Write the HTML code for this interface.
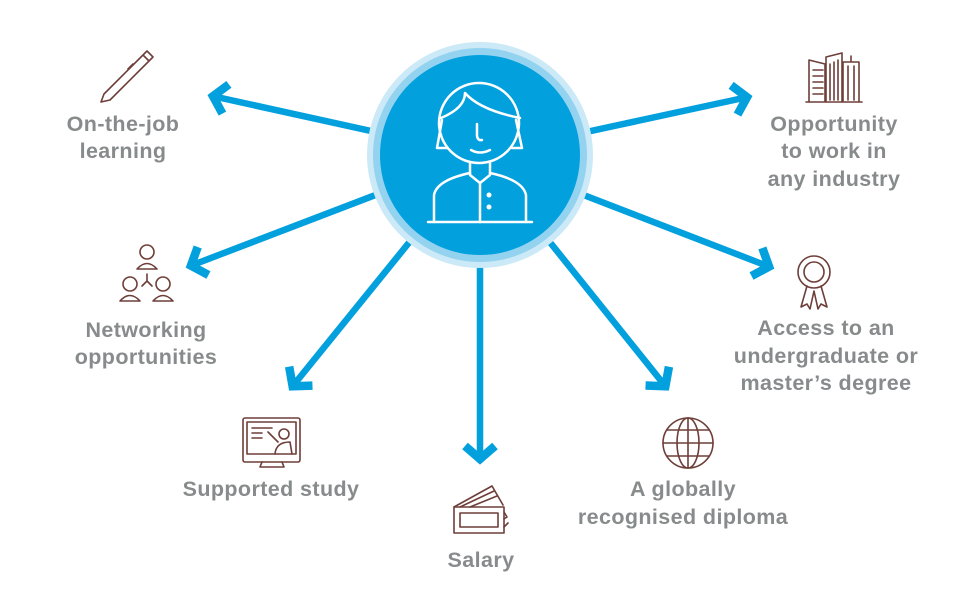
<!DOCTYPE html>
<html><head><meta charset="utf-8"><style>
html,body{margin:0;padding:0;background:#fff;}
svg{display:block}
text{font-family:"Liberation Sans",sans-serif;font-weight:bold;font-size:21.5px;letter-spacing:0.4px;fill:#878b8c;text-anchor:middle}
.ic{fill:none;stroke:#6e3e38;stroke-width:1.6;stroke-linejoin:round;stroke-linecap:round}
</style></head><body>
<svg width="960" height="611" viewBox="0 0 960 611" xmlns="http://www.w3.org/2000/svg">
<defs>
<marker id="ah" markerUnits="userSpaceOnUse" markerWidth="40" markerHeight="40" refX="21" refY="20" orient="auto" viewBox="0 0 40 40">
<polyline points="7,5 20,20 7,35" fill="none" stroke="#03a0de" stroke-width="8.5" stroke-linejoin="miter" stroke-miterlimit="10"/>
</marker>
</defs>
<g stroke="#03a0de" stroke-width="6.5" fill="none" marker-end="url(#ah)">
<line x1="480" y1="155" x2="212" y2="96"/>
<line x1="480" y1="155" x2="748" y2="97"/>
<line x1="480" y1="155" x2="190" y2="266"/>
<line x1="480" y1="155" x2="770" y2="267"/>
<line x1="480" y1="155" x2="292" y2="387"/>
<line x1="480" y1="155" x2="480" y2="460"/>
<line x1="480" y1="155" x2="666" y2="387"/>
</g>
<circle cx="480" cy="155" r="113" fill="#cbe9f7"/>
<circle cx="480" cy="155" r="107" fill="#93d3f0"/>
<circle cx="480" cy="155" r="100" fill="#03a0de"/>
<g fill="none" stroke="#fff" stroke-width="2.5" stroke-linecap="round" stroke-linejoin="round">
<circle cx="479" cy="123" r="40"/>
<path d="M441,118 Q465,108 465,93 Q480,110 520,118"/>
<path d="M442,120 L437,148 L447,148 M516,120 L522,148 L512,148"/>
<path d="M477,124 L477,136 Q478,141 482,140"/>
<path d="M471,150 Q480,155 490,150"/>
<path d="M470,163 L470,175 L480,183 L490,175 L490,163"/>
<path d="M434,222 L434,195 Q437,180 470,173 M490,173 Q523,180 526,195 L526,222"/>
<path d="M480,183 L480,222"/>
<path d="M428,222 L532,222"/>
</g>
<circle cx="489" cy="195" r="2.5" fill="#fff"/><circle cx="489" cy="207" r="2.5" fill="#fff"/>

<g class="ic"><path d="M101,102 L104,94 L143,55 L149,61 L110,100 Z M143,55 L147,51 L153,57 L149,61 M128,69 L133,64"/></g>
<g class="ic"><path d="M806,102 L862,102 M809,102 L809,60 L825,64 L825,102 M826,102 L826,57 L842,53 L842,102 M843,102 L843,62 L859,62 L859,102 M851,62 L851,56 M813,70 L823,70 M813,76 L823,76 M813,82 L823,82 M813,88 L823,88 M813,94 L823,94 M830,64 L830,100 M834,62 L834,100 M838,60 L838,100 M848,66 L848,100 M854,66 L854,100"/></g>
<g class="ic"><circle cx="147" cy="252" r="7"/><path d="M137,269 Q147,258 157,269 Z"/><circle cx="130" cy="284" r="7"/><path d="M120,301 Q130,290 140,301 Z"/><circle cx="163" cy="284" r="7"/><path d="M153,301 Q163,290 173,301 Z"/><path d="M147,274 L147,281 L142,286 M147,281 L152,286"/></g>
<circle cx="814" cy="272" r="16" class="ic"/><circle cx="814" cy="272" r="10" class="ic"/>
<g class="ic"><path d="M807,286 L801,307 L807,304 L810,309 L814,291 L818,309 L821,304 L827,307 L821,286"/></g>
<g class="ic"><rect x="243" y="418" width="57" height="44" rx="2"/><rect x="247" y="422" width="49" height="32"/><path d="M262,462 L260,467 L284,467 L282,462 M252,428 L272,428 M252,433 L262,433 M252,438 L262,438 M268,432 L278,442"/><circle cx="284" cy="434" r="5"/><path d="M275,454 Q276,442 290,442 L292,454"/></g>
<g class="ic"><rect x="454" y="507" width="50" height="26"/><path d="M460,513 L498,513 L498,527 L460,527 Z M454,507 L492,486 L503,505 M460,507 L494,491 M470,507 L497,496 M504,512 L507,517 L504,519 M504,527 L508,523"/></g>
<g class="ic"><circle cx="688" cy="443" r="25"/><ellipse cx="688" cy="443" rx="11" ry="25"/><path d="M688,418 L688,468 M663,443 L713,443 M667,430 L709,430 M667,456 L709,456"/></g>

<text x="123" y="131">On-the-job</text>
<text x="123" y="158">learning</text>
<text x="834" y="131">Opportunity</text>
<text x="834" y="158">to work in</text>
<text x="834" y="186">any industry</text>
<text x="146" y="337">Networking</text>
<text x="146" y="364">opportunities</text>
<text x="826" y="335">Access to an</text>
<text x="826" y="363">undergraduate or</text>
<text x="826" y="390">master’s degree</text>
<text x="271" y="496">Supported study</text>
<text x="481" y="567">Salary</text>
<text x="683" y="496">A globally</text>
<text x="683" y="524">recognised diploma</text>
</svg>
</body></html>
